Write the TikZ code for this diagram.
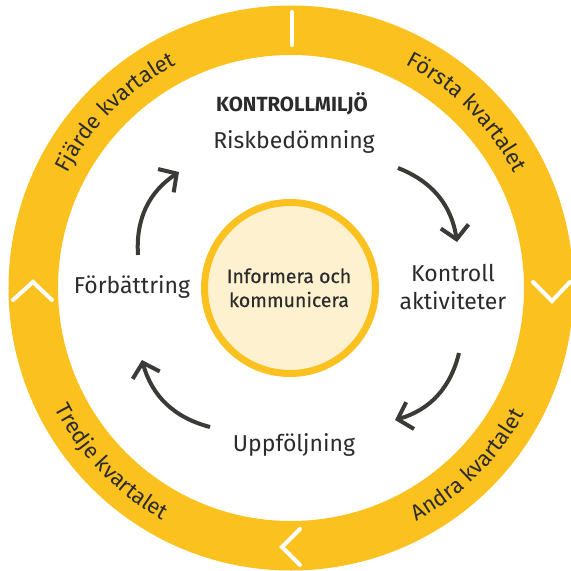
\documentclass[tikz,border=0pt]{standalone}
\usepackage{fontspec}
\setmainfont{Fira Sans}
\usetikzlibrary{arrows.meta,decorations.text}
\definecolor{ringyellow}{HTML}{FBC11F}
\definecolor{innerfill}{HTML}{FDF1D0}
\definecolor{darktext}{HTML}{2B2B2B}
\definecolor{arrowgray}{HTML}{3A3A36}
\tikzset{
  lbl/.style={text=darktext, font=\fontsize{23}{26}\selectfont, anchor=base, inner sep=0pt},
  cycarrow/.style={draw=arrowgray, line width=4pt, bend left=30,
    -{Straight Barb[length=13pt,width=28pt]}},
  chev/.style={draw=white, line width=4pt, line cap=round, line join=miter},
  ringtext/.style={decorate, decoration={text along path, text align=center,
    text={|\fontsize{22}{24}\selectfont\color{darktext}|#1}}}
}
\begin{document}
\begin{tikzpicture}[x=1pt,y=1pt]
\useasboundingbox (-291,-283) rectangle (280,288);
\clip (-291,-283) rectangle (280,288);
% outer ring
\draw[ringyellow, line width=49.5pt] (0,0) circle[radius=257.75];
% white tick and chevrons
\coordinate (tickA) at (1,276);
\coordinate (tickB) at (1,243);
\draw[draw=white, line width=4pt, line cap=round] (tickA) -- (tickB);
\coordinate (cl1) at (-278,-12); \coordinate (cl2) at (-258,6); \coordinate (cl3) at (-239,-12);
\draw[chev] (cl1) -- (cl2) -- (cl3);
\coordinate (cr1) at (242,6); \coordinate (cr2) at (261,-13); \coordinate (cr3) at (279,6);
\draw[chev] (cr1) -- (cr2) -- (cr3);
\coordinate (cb1) at (9,-241); \coordinate (cb2) at (-9,-259); \coordinate (cb3) at (9,-277);
\draw[chev] (cb1) -- (cb2) -- (cb3);
% ring texts
\path[ringtext={Första kvartalet}] (84:251) arc[start angle=84, end angle=6, radius=251];
\path[ringtext={Fjärde kvartalet}] (174:251) arc[start angle=174, end angle=96, radius=251];
\path[ringtext={Andra kvartalet}] (-84:265) arc[start angle=-84, end angle=-6, radius=265];
\path[ringtext={Tredje kvartalet}] (-175:265) arc[start angle=-175, end angle=-97, radius=265];
% inner circle
\node[circle, draw=ringyellow, fill=innerfill, line width=7pt, minimum size=171pt, inner sep=0pt] (center) at (-1,0) {};
\node[lbl, font=\fontsize{19.5}{22}\selectfont\addfontfeature{FakeBold=0.4}] (info1) at (-2,5) {Informera och};
\node[lbl, font=\fontsize{19.5}{22}\selectfont\addfontfeature{FakeBold=0.4}] (info2) at (-2,-19) {kommunicera};
% labels
\node[lbl, font=\fontsize{20.5}{24}\selectfont\bfseries] (kmiljo) at (1,177) {KONTROLLMILJÖ};
\node[lbl] (risk) at (3,140) {Riskbedömning};
\node[lbl] (kontroll1) at (162,7) {Kontroll};
\node[lbl] (kontroll2) at (162,-21.5) {aktiviteter};
\node[lbl] (forb) at (-159,-5) {Förbättring};
\node[lbl] (uppf) at (3,-163) {Uppföljning};
% cycle arrows
\coordinate (a1s) at (107,120); \coordinate (a1e) at (166,46);
\coordinate (a2s) at (168,-65); \coordinate (a2e) at (104,-132);
\coordinate (a3s) at (-81,-139); \coordinate (a3e) at (-149,-72);
\coordinate (a4s) at (-153,33); \coordinate (a4e) at (-112,116);
\draw[cycarrow] (a1s) to (a1e);
\draw[cycarrow] (a2s) to (a2e);
\draw[cycarrow] (a3s) to (a3e);
\draw[cycarrow] (a4s) to (a4e);
\end{tikzpicture}
\end{document}
